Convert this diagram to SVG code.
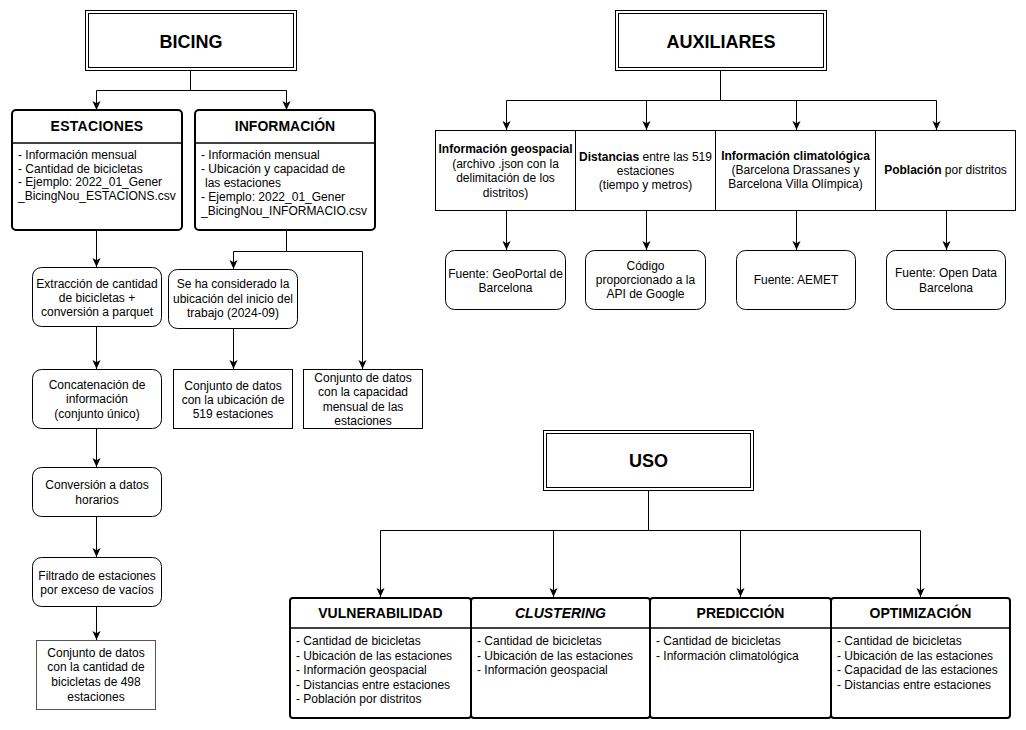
<svg xmlns="http://www.w3.org/2000/svg" width="1026" height="730" viewBox="0 0 1026 730">
<defs>
<marker id="arr" markerUnits="userSpaceOnUse" markerWidth="9" markerHeight="9" viewBox="0 0 10 10" refX="10" refY="5" orient="auto"><path d="M0,0.5 L10,5 L0,9.5 L2.5,5 Z" fill="#000"/></marker>
</defs>
<style>
text{font-family:"Liberation Sans",Arial,Helvetica,sans-serif;fill:#000}
.t{font-size:12px}
.c{text-anchor:middle}
.b{font-weight:bold}
.title{font-size:18px;font-weight:bold;text-anchor:middle}
.hd{font-size:14px;font-weight:bold;text-anchor:middle}
.box{fill:#fff;stroke:#000;stroke-width:1}
.gbox{fill:#fff;stroke:#555;stroke-width:1}
.thick{fill:#fff;stroke:#000;stroke-width:2}
.ln{fill:none;stroke:#000;stroke-width:1.5}
.conn path{fill:none;stroke:#000;stroke-width:1;marker-end:url(#arr)}
</style>
<rect width="1026" height="730" fill="#fff"/>

<g class="conn" id="connectors">
<path d="M190.5,71 V90.5 H96.5 V110"/>
<path d="M190.5,90.5 H286.5 V110"/>
<path d="M96.5,231 V267"/>
<path d="M286.5,231 V251.5 H233.5 V269"/>
<path d="M286.5,251.5 H362.5 V369"/>
<path d="M233.5,329 V369"/>
<path d="M96.5,327 V369"/>
<path d="M96.5,429 V467"/>
<path d="M96.5,517 V557"/>
<path d="M96.5,607 V640"/>
<path d="M720.5,71 V100.5 H506.5 V130"/>
<path d="M720.5,100.5 H936.5 V130"/>
<path d="M646.5,100.5 V130"/>
<path d="M796.5,100.5 V130"/>
<path d="M506.5,210 V250"/>
<path d="M646.5,210 V250"/>
<path d="M796.5,210 V250"/>
<path d="M946.5,210 V250"/>
<path d="M648.5,491 V530.5 H380.5 V597"/>
<path d="M648.5,530.5 H920.5 V597"/>
<path d="M553.5,530.5 V597"/>
<path d="M740.5,530.5 V597"/>
</g>

<g id="bicing">
<rect class="box" x="85.5" y="10.5" width="211" height="60"/>
<rect class="box" x="88.5" y="13.5" width="205" height="54"/>
<text class="title" x="191" y="48">BICING</text>
</g>

<g id="estaciones">
<rect class="thick" x="12" y="110" width="170" height="120" rx="4"/>
<path class="ln" d="M12,143 H182"/>
<text class="hd" x="97" y="131" letter-spacing="0.3">ESTACIONES</text>
<text class="t" x="18" y="159">- Información mensual</text>
<text class="t" x="18" y="172.5">- Cantidad de bicicletas</text>
<text class="t" x="18" y="186">- Ejemplo: 2022_01_Gener</text>
<text class="t" x="18" y="199.5">_BicingNou_ESTACIONS.csv</text>
</g>

<g id="informacion">
<rect class="thick" x="195" y="110" width="180" height="120" rx="4"/>
<path class="ln" d="M195,143 H375"/>
<text class="hd" x="285" y="131">INFORMACIÓN</text>
<text class="t" x="201" y="159">- Información mensual</text>
<text class="t" x="201" y="173">- Ubicación y capacidad de</text>
<text class="t" x="205" y="187">las estaciones</text>
<text class="t" x="201" y="201">- Ejemplo: 2022_01_Gener</text>
<text class="t" x="201" y="215">_BicingNou_INFORMACIO.csv</text>
</g>

<g id="extraccion">
<rect class="box" x="32.5" y="267.5" width="129" height="59" rx="9"/>
<text class="t c" x="97" y="288">Extracción de cantidad</text>
<text class="t c" x="97" y="302">de bicicletas +</text>
<text class="t c" x="97" y="316">conversión a parquet</text>
</g>

<g id="considerado">
<rect class="box" x="168.5" y="269.5" width="129" height="59" rx="9"/>
<text class="t c" x="233" y="288">Se ha considerado la</text>
<text class="t c" x="233" y="302.5">ubicación del inicio del</text>
<text class="t c" x="233" y="317">trabajo (2024-09)</text>
</g>

<g id="conjunto-ubicacion">
<rect class="box" x="173.5" y="369.5" width="119" height="59"/>
<text class="t c" x="233" y="390">Conjunto de datos</text>
<text class="t c" x="233" y="404">con la ubicación de</text>
<text class="t c" x="233" y="418">519 estaciones</text>
</g>

<g id="conjunto-capacidad">
<rect class="box" x="303.5" y="369.5" width="119" height="59"/>
<text class="t c" x="363" y="382">Conjunto de datos</text>
<text class="t c" x="363" y="396">con la capacidad</text>
<text class="t c" x="363" y="411">mensual de las</text>
<text class="t c" x="363" y="425">estaciones</text>
</g>

<g id="concatenacion">
<rect class="box" x="32.5" y="369.5" width="129" height="59" rx="9"/>
<text class="t c" x="97" y="389">Concatenación de</text>
<text class="t c" x="97" y="403">información</text>
<text class="t c" x="97" y="418">(conjunto único)</text>
</g>

<g id="conversion">
<rect class="box" x="32.5" y="467.5" width="129" height="49" rx="9"/>
<text class="t c" x="97" y="489">Conversión a datos</text>
<text class="t c" x="97" y="504">horarios</text>
</g>

<g id="filtrado">
<rect class="box" x="32.5" y="557.5" width="129" height="49" rx="9"/>
<text class="t c" x="97" y="580">Filtrado de estaciones</text>
<text class="t c" x="97" y="594">por exceso de vacíos</text>
</g>

<g id="conjunto-cantidad">
<rect class="gbox" x="36.5" y="640.5" width="119" height="69"/>
<text class="t c" x="96" y="657">Conjunto de datos</text>
<text class="t c" x="96" y="671">con la cantidad de</text>
<text class="t c" x="96" y="686">bicicletas de 498</text>
<text class="t c" x="96" y="701">estaciones</text>
</g>

<g id="auxiliares">
<rect class="box" x="615.5" y="10.5" width="211" height="60"/>
<rect class="box" x="618.5" y="13.5" width="205" height="54"/>
<text class="title" x="721" y="48">AUXILIARES</text>
</g>

<g id="geospacial">
<rect class="box" x="435.5" y="130.5" width="140" height="80"/>
<text class="t c b" x="505.5" y="153">Información geospacial</text>
<text class="t c" x="505.5" y="168">(archivo .json con la</text>
<text class="t c" x="505.5" y="182">delimitación de los</text>
<text class="t c" x="505.5" y="197">distritos)</text>
</g>

<g id="distancias">
<rect class="box" x="575.5" y="130.5" width="140" height="80"/>
<text class="t c" x="645.5" y="161" textLength="133" lengthAdjust="spacingAndGlyphs"><tspan class="b">Distancias</tspan> entre las 519</text>
<text class="t c" x="645.5" y="175">estaciones</text>
<text class="t c" x="645.5" y="189">(tiempo y metros)</text>
</g>

<g id="climatologica">
<rect class="box" x="715.5" y="130.5" width="160" height="80"/>
<text class="t c b" x="795.5" y="160">Información climatológica</text>
<text class="t c" x="795.5" y="174">(Barcelona Drassanes y</text>
<text class="t c" x="795.5" y="188">Barcelona Villa Olímpica)</text>
</g>

<g id="poblacion">
<rect class="box" x="875.5" y="130.5" width="140" height="80"/>
<text class="t c" x="945.5" y="174"><tspan class="b">Población</tspan> por distritos</text>
</g>

<g id="fuente-geoportal">
<rect class="box" x="445.5" y="250.5" width="120" height="59" rx="9"/>
<text class="t c" x="505.5" y="278">Fuente: GeoPortal de</text>
<text class="t c" x="505.5" y="292">Barcelona</text>
</g>

<g id="codigo-google">
<rect class="box" x="585.5" y="250.5" width="120" height="59" rx="9"/>
<text class="t c" x="645.5" y="270">Código</text>
<text class="t c" x="645.5" y="284">proporcionado a la</text>
<text class="t c" x="645.5" y="298">API de Google</text>
</g>

<g id="fuente-aemet">
<rect class="box" x="736.5" y="250.5" width="119" height="59" rx="9"/>
<text class="t c" x="796" y="284">Fuente: AEMET</text>
</g>

<g id="fuente-opendata">
<rect class="box" x="886.5" y="250.5" width="119" height="59" rx="9"/>
<text class="t c" x="946" y="277">Fuente: Open Data</text>
<text class="t c" x="946" y="292">Barcelona</text>
</g>

<g id="uso">
<rect class="box" x="543.5" y="430.5" width="210" height="60"/>
<rect class="box" x="546.5" y="433.5" width="204" height="54"/>
<text class="title" x="648.5" y="467">USO</text>
</g>

<g id="vulnerabilidad">
<rect class="thick" x="290" y="598" width="181" height="120" rx="3"/>
<path class="ln" d="M290,628 H471"/>
<text class="hd" x="380.5" y="618">VULNERABILIDAD</text>
<text class="t" x="296" y="645">- Cantidad de bicicletas</text>
<text class="t" x="296" y="659.5">- Ubicación de las estaciones</text>
<text class="t" x="296" y="674">- Información geospacial</text>
<text class="t" x="296" y="688.5">- Distancias entre estaciones</text>
<text class="t" x="296" y="703">- Población por distritos</text>
</g>

<g id="clustering">
<rect class="thick" x="471" y="598" width="179" height="120" rx="3"/>
<path class="ln" d="M471,628 H650"/>
<text class="hd" x="560.5" y="618" font-style="italic">CLUSTERING</text>
<text class="t" x="477" y="645">- Cantidad de bicicletas</text>
<text class="t" x="477" y="659.5">- Ubicación de las estaciones</text>
<text class="t" x="477" y="674">- Información geospacial</text>
</g>

<g id="prediccion">
<rect class="thick" x="650" y="598" width="181" height="120" rx="3"/>
<path class="ln" d="M650,628 H831"/>
<text class="hd" x="740.5" y="618">PREDICCIÓN</text>
<text class="t" x="656" y="645">- Cantidad de bicicletas</text>
<text class="t" x="656" y="659.5">- Información climatológica</text>
</g>

<g id="optimizacion">
<rect class="thick" x="831" y="598" width="179" height="120" rx="3"/>
<path class="ln" d="M831,628 H1010"/>
<text class="hd" x="920.5" y="618">OPTIMIZACIÓN</text>
<text class="t" x="837" y="645">- Cantidad de bicicletas</text>
<text class="t" x="837" y="659.5">- Ubicación de las estaciones</text>
<text class="t" x="837" y="674">- Capacidad de las estaciones</text>
<text class="t" x="837" y="688.5">- Distancias entre estaciones</text>
</g>
</svg>
